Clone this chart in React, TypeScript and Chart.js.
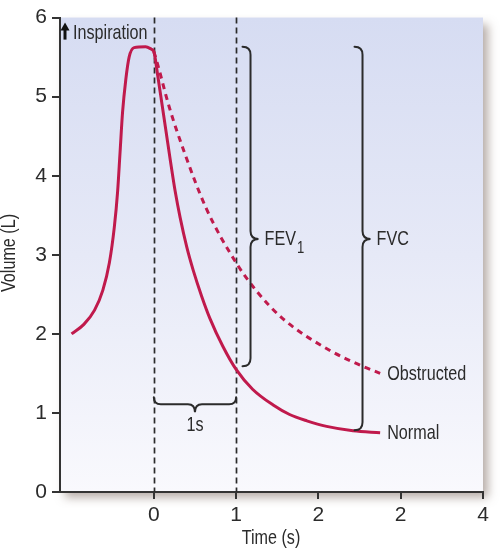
import React, { useEffect, useRef } from "react";
import { Chart, registerables } from "chart.js";

Chart.register(...registerables);

// ---- data ----
const normalTime = [-1.0, -0.85, -0.72, -0.62, -0.54, -0.48, -0.44, -0.41, -0.38, -0.34, -0.3, -0.24, -0.1, -0.03, 0, 0.05, 0.1, 0.15, 0.2, 0.26, 0.32, 0.4, 0.48, 0.58, 0.68, 0.84, 1.0, 1.2, 1.45, 1.65, 1.86, 2.1, 2.42, 2.75];
const normalVolume = [2.0, 2.12, 2.3, 2.55, 2.9, 3.35, 3.8, 4.3, 4.8, 5.22, 5.5, 5.62, 5.63, 5.6, 5.57, 5.25, 4.9, 4.55, 4.2, 3.8, 3.47, 3.1, 2.8, 2.48, 2.2, 1.84, 1.55, 1.3, 1.1, 0.98, 0.9, 0.83, 0.775, 0.75];
const obstructedTime = [0, 0.03, 0.19, 0.38, 0.64, 1.0, 1.25, 1.57, 2.14, 2.54, 2.75];
const obstructedVolume = [5.57, 5.47, 4.86, 4.27, 3.58, 2.9, 2.54, 2.19, 1.79, 1.59, 1.5];

const xTickValues = [0, 1, 2, 3, 4];
const xTickLabels = ["0", "1", "2", "2", "4"];
const yTickValues = [0, 1, 2, 3, 4, 5, 6];

const markerTimes = [0, 1];
const fev1Brace = { x: 1.175, top: 5.63, bottom: 1.59, mid: 3.2 };
const fvcBrace = { x: 2.536, top: 5.63, bottom: 0.78, mid: 3.2 };
const secondBrace = { from: 0, to: 1, y: 1.11 };

const FONT = "'Liberation Sans', Arial, sans-serif";
const RED = "#c01a4c";
const INK = "#2b2b2b";
const SQUEEZE = 0.77;

function label(ctx: CanvasRenderingContext2D, text: string, x: number, y: number, align: CanvasTextAlign, size = 21) {
  ctx.save();
  ctx.font = `${size}px ${FONT}`;
  ctx.textAlign = align;
  ctx.textBaseline = "middle";
  ctx.translate(x, y);
  ctx.scale(SQUEEZE, 1);
  ctx.fillText(text, 0, 0);
  const w = ctx.measureText(text).width * SQUEEZE;
  ctx.restore();
  return w;
}

function vBrace(ctx: CanvasRenderingContext2D, x: number, yTop: number, yBot: number, yMid: number, r: number, tip: number) {
  ctx.beginPath();
  ctx.moveTo(x - r, yTop);
  ctx.quadraticCurveTo(x, yTop, x, yTop + r);
  ctx.lineTo(x, yMid - r);
  ctx.quadraticCurveTo(x, yMid, x + tip, yMid);
  ctx.quadraticCurveTo(x, yMid, x, yMid + r);
  ctx.lineTo(x, yBot - r);
  ctx.quadraticCurveTo(x, yBot, x - r, yBot);
  ctx.stroke();
}

function hBrace(ctx: CanvasRenderingContext2D, x0: number, x1: number, y: number, r: number, tip: number) {
  const xm = (x0 + x1) / 2;
  ctx.beginPath();
  ctx.moveTo(x0, y - r);
  ctx.quadraticCurveTo(x0, y, x0 + r, y);
  ctx.lineTo(xm - r, y);
  ctx.quadraticCurveTo(xm, y, xm, y + tip);
  ctx.quadraticCurveTo(xm, y, xm + r, y);
  ctx.lineTo(x1 - r, y);
  ctx.quadraticCurveTo(x1, y, x1, y - r);
  ctx.stroke();
}

const decorPlugin = {
  id: "decor",
  beforeDraw(chart: any) {
    const { ctx, chartArea: a } = chart;
    ctx.save();
    ctx.shadowColor = "rgba(110, 90, 80, 0.5)";
    ctx.shadowBlur = 9;
    ctx.shadowOffsetX = 5;
    ctx.shadowOffsetY = 6;
    ctx.fillStyle = "#f4f4fa";
    ctx.fillRect(a.left, a.top, a.right - a.left, a.bottom - a.top);
    ctx.restore();
    const g = ctx.createLinearGradient(0, a.top, 0, a.bottom);
    g.addColorStop(0, "#d6dcf2");
    g.addColorStop(0.5, "#e6e9f7");
    g.addColorStop(1, "#f9f9fd");
    ctx.fillStyle = g;
    ctx.fillRect(a.left, a.top, a.right - a.left, a.bottom - a.top);
  },
  beforeDatasetsDraw(chart: any) {
    const { ctx, chartArea: a, scales } = chart;
    const xs = scales.x;
    ctx.save();
    ctx.strokeStyle = "#2a2a2a";
    ctx.lineWidth = 1.7;
    ctx.setLineDash([6, 4]);
    for (const t of markerTimes) {
      const px = Math.round(xs.getPixelForValue(t)) + 0.5;
      ctx.beginPath();
      ctx.moveTo(px, a.top);
      ctx.lineTo(px, a.bottom);
      ctx.stroke();
    }
    ctx.restore();
  },
  afterDatasetsDraw(chart: any) {
    const { ctx, scales } = chart;
    const xs = scales.x;
    const ys = scales.y;
    const a = chart.chartArea;
    ctx.save();
    ctx.strokeStyle = INK;
    ctx.lineWidth = 2;
    ctx.lineCap = "round";
    for (const b of [fev1Brace, fvcBrace]) {
      vBrace(ctx, xs.getPixelForValue(b.x), ys.getPixelForValue(b.top), ys.getPixelForValue(b.bottom), ys.getPixelForValue(b.mid), 8, 8);
    }
    hBrace(ctx, xs.getPixelForValue(secondBrace.from), xs.getPixelForValue(secondBrace.to), ys.getPixelForValue(secondBrace.y), 7, 8);

    ctx.fillStyle = INK;
    // FEV1
    const fevX = xs.getPixelForValue(fev1Brace.x) + 14;
    const fevY = ys.getPixelForValue(fev1Brace.mid);
    const w = label(ctx, "FEV", fevX, fevY, "left");
    label(ctx, "1", fevX + w + 1, fevY + 9, "left", 17);
    // FVC
    label(ctx, "FVC", xs.getPixelForValue(fvcBrace.x) + 14, ys.getPixelForValue(fvcBrace.mid), "left");
    // line end labels
    const oi = obstructedTime.length - 1;
    label(ctx, "Obstructed", xs.getPixelForValue(obstructedTime[oi]) + 7, ys.getPixelForValue(obstructedVolume[oi]) + 1, "left");
    const ni = normalTime.length - 1;
    label(ctx, "Normal", xs.getPixelForValue(normalTime[ni]) + 7, ys.getPixelForValue(normalVolume[ni]) + 1, "left");
    // 1s
    label(ctx, "1s", xs.getPixelForValue((secondBrace.from + secondBrace.to) / 2), ys.getPixelForValue(secondBrace.y) + 21, "center");
    // Inspiration
    label(ctx, "Inspiration", a.left + 13, a.top + 16, "left");
    // up arrow
    const ax = a.left + 5;
    ctx.lineCap = "butt";
    ctx.lineWidth = 3;
    ctx.strokeStyle = "#111";
    ctx.beginPath();
    ctx.moveTo(ax, a.top + 22);
    ctx.lineTo(ax, a.top + 11);
    ctx.stroke();
    ctx.fillStyle = "#111";
    ctx.beginPath();
    ctx.moveTo(ax, a.top + 5);
    ctx.lineTo(ax - 4.5, a.top + 13);
    ctx.lineTo(ax + 4.5, a.top + 13);
    ctx.closePath();
    ctx.fill();
    ctx.restore();

    // axis titles
    ctx.save();
    ctx.fillStyle = INK;
    label(ctx, "Time (s)", 271, 538, "center");
    ctx.translate(9, 253);
    ctx.rotate(-Math.PI / 2);
    label(ctx, "Volume (L)", 0, 0, "center");
    ctx.restore();
  },
};

export default function App() {
  const ref = useRef<HTMLCanvasElement | null>(null);
  useEffect(() => {
    if (!ref.current) return;
    const chart = new Chart(ref.current, {
      type: "line",
      data: {
        datasets: [
          {
            label: "Normal",
            data: normalTime.map((t, i) => ({ x: t, y: normalVolume[i] })),
            borderColor: RED,
            borderWidth: 3,
            pointRadius: 0,
            cubicInterpolationMode: "monotone",
            fill: false,
          },
          {
            label: "Obstructed",
            data: obstructedTime.map((t, i) => ({ x: t, y: obstructedVolume[i] })),
            borderColor: RED,
            borderWidth: 3,
            borderDash: [6, 5],
            pointRadius: 0,
            cubicInterpolationMode: "monotone",
            fill: false,
          },
        ],
      },
      options: {
        animation: false,
        responsive: false,
        maintainAspectRatio: false,
        layout: { padding: { left: 0, top: 12, right: 17, bottom: 0 } },
        plugins: { legend: { display: false }, tooltip: { enabled: false } },
        scales: {
          x: {
            type: "linear",
            min: -1.14,
            max: 4,
            afterBuildTicks: (s: any) => {
              s.ticks = xTickValues.map((v) => ({ value: v }));
            },
            afterFit: (s: any) => {
              s.height = 58;
            },
            ticks: {
              callback: (v: any) => xTickLabels[xTickValues.indexOf(Number(v))] ?? "",
              color: INK,
              font: { family: FONT, size: 21 },
              padding: 4,
              maxRotation: 0,
              autoSkip: false,
            },
            grid: { drawOnChartArea: false, drawTicks: true, tickLength: 7, color: "#333", lineWidth: 2 },
            border: { display: true, color: "#333", width: 2 },
          },
          y: {
            type: "linear",
            min: 0,
            max: 6,
            afterBuildTicks: (s: any) => {
              s.ticks = yTickValues.map((v) => ({ value: v }));
            },
            afterFit: (s: any) => {
              s.width = 60;
            },
            ticks: {
              color: INK,
              font: { family: FONT, size: 21 },
              padding: 5,
            },
            grid: { drawOnChartArea: false, drawTicks: true, tickLength: 8, color: "#333", lineWidth: 2 },
            border: { display: true, color: "#333", width: 2 },
          },
        },
      },
      plugins: [decorPlugin],
    } as any);
    return () => chart.destroy();
  }, []);
  return (
    <div style={{ position: "absolute", left: 0, top: 0, width: 500, height: 550, background: "#fff" }}>
      <canvas ref={ref} width={500} height={550} style={{ width: 500, height: 550, display: "block" }} />
    </div>
  );
}
